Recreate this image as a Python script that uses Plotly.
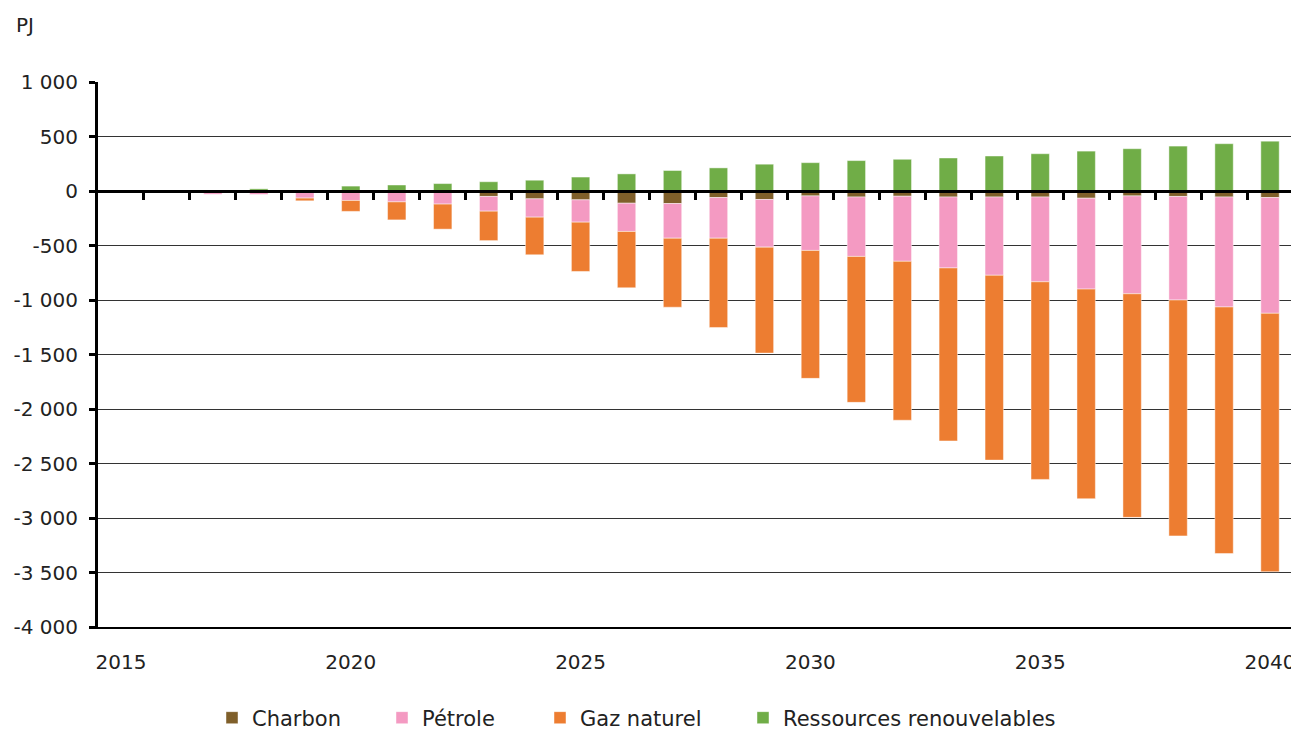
import plotly.graph_objects as go

years = list(range(2015, 2041))
charbon = [0, 0, 0, 0, 0, 0, 0, 0, -50, -72, -81, -112, -115, -60, -78,
           -45, -55, -48, -55, -55, -55, -66, -45, -50, -55, -60]
petrole = [0, 0, -30, -32, -65, -87, -100, -120, -135, -168, -205, -259, -318, -373, -437,
           -500, -545, -597, -651, -718, -778, -834, -898, -950, -1009, -1062]
gaz = [0, 0, 0, 0, -25, -100, -165, -230, -270, -345, -452, -517, -633, -819, -972,
       -1174, -1339, -1458, -1587, -1696, -1813, -1923, -2051, -2164, -2262, -2371]
renouvelables = [0, 0, 4, 20, 3, 45, 55, 68, 85, 99, 128, 157, 188, 212, 246,
                 260, 279, 291, 303, 321, 342, 366, 388, 412, 434, 457]

series = [
    ("Charbon", charbon, "#7F5F2A"),
    ("Pétrole", petrole, "#F49AC2"),
    ("Gaz naturel", gaz, "#ED7D31"),
    ("Ressources renouvelables", renouvelables, "#70AD47"),
]

y_ticks = [1000, 500, 0, -500, -1000, -1500, -2000, -2500, -3000, -3500, -4000]
y_labels = ["1 000", "500", "0", "-500", "-1 000", "-1 500", "-2 000", "-2 500",
            "-3 000", "-3 500", "-4 000"]
x_ticks = [2015, 2020, 2025, 2030, 2035, 2040]
x_labels = ["2015", "2020", "2025", "2030", "2035", "2040"]

FONT = "DejaVu Sans"
TXT = "#222222"

# page body margin offsets the figure inside the window
OFF = 8
W, H = 1299 - OFF, 730 - OFF
# plot area in window pixels, converted to figure pixels
L, R, T, B = 98 - OFF, 1293 - OFF, 82 - OFF, 627 - OFF

def px_x(p):  # window px -> paper fraction
    return (p - OFF - L) / (R - L)

def px_y(p):
    return (B - (p - OFF)) / (B - T)

legend_ids = ["legend", "legend2", "legend3", "legend4"]
legend_left_px = [212, 382, 540, 743]

fig = go.Figure()
for (name, vals, color), lid in zip(series, legend_ids):
    fig.add_trace(go.Bar(
        x=years, y=vals, name=name, width=0.4, legend=lid,
        marker=dict(color=color, line=dict(color="rgba(255,255,255,0.45)", width=1)),
    ))

# helper trace on the zero-crossing axis (carries no visible marks)
fig.add_trace(go.Scatter(x=years, y=[0] * len(years), xaxis="x2", mode="none",
                         showlegend=False, hoverinfo="skip"))

boundaries = [y + 0.5 for y in years]

legends = {}
for lid, lx in zip(legend_ids, legend_left_px):
    legends[lid] = dict(
        orientation="h", x=px_x(lx), xanchor="left", y=px_y(718), yanchor="middle",
        font=dict(family=FONT, size=21, color=TXT), bgcolor="rgba(0,0,0,0)",
        borderwidth=0,
    )

fig.update_layout(
    width=W, height=H,
    paper_bgcolor="white", plot_bgcolor="white",
    margin=dict(l=L, r=W - R, t=T, b=H - B, autoexpand=False),
    barmode="relative",
    font=dict(family=FONT, size=20, color=TXT),
    xaxis=dict(
        range=[2014.5, 2040.5], tickmode="array", tickvals=x_ticks, ticktext=x_labels,
        showgrid=False, zeroline=False, showline=True, linecolor="black", linewidth=2,
        ticks="", ticklabelstandoff=16, automargin=False,
    ),
    xaxis2=dict(
        range=[2014.5, 2040.5], overlaying="x", anchor="free", position=0.8,
        tickmode="array", tickvals=boundaries, ticks="outside", ticklen=7, tickwidth=3,
        tickcolor="black", showticklabels=False, showgrid=False, zeroline=False,
        showline=True, linecolor="black", linewidth=3, automargin=False,
    ),
    yaxis=dict(
        range=[-4000, 1000], tickmode="array", tickvals=y_ticks, ticktext=y_labels,
        showgrid=True, gridcolor="#333333", gridwidth=1, zeroline=False,
        showline=True, linecolor="black", linewidth=3,
        ticks="outside", ticklen=6, tickwidth=3, tickcolor="black",
        ticklabelstandoff=7, automargin=False,
    ),
    shapes=[dict(type="line", xref="paper", yref="paper", x0=1, x1=1, y0=0, y1=1,
                 line=dict(color="#333333", width=1.5))],
    annotations=[dict(text="PJ", xref="paper", yref="paper", x=px_x(14), y=px_y(25),
                      xanchor="left", yanchor="middle", showarrow=False,
                      font=dict(family=FONT, size=20, color=TXT))],
    **legends,
)

fig.write_html("out.html")
